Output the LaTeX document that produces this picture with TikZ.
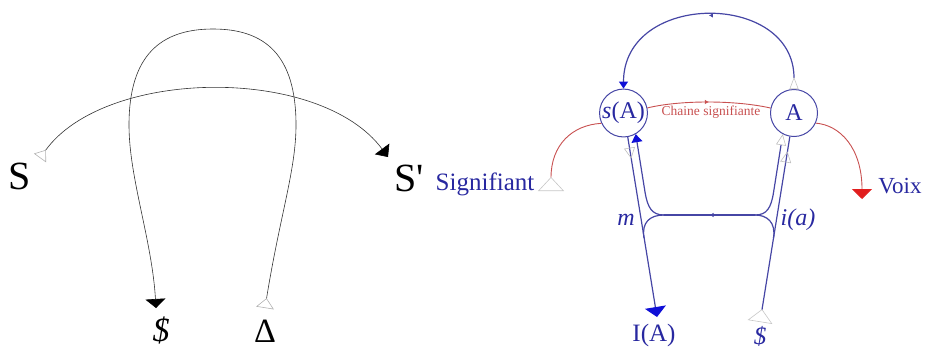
\documentclass[tikz,border=0pt]{standalone}
\usepackage{fontspec}
\setmainfont{Liberation Serif}
\usetikzlibrary{arrows.meta,decorations.markings}

\definecolor{graphblue}{RGB}{70,70,165}
\definecolor{headblue}{RGB}{15,15,215}
\definecolor{inkblue}{RGB}{40,40,160}
\definecolor{graphred}{RGB}{200,80,80}
\definecolor{headred}{RGB}{225,30,30}

\begin{document}
\begin{tikzpicture}[x=1pt, y=-1pt,
  bigsym/.style={inner sep=0pt, anchor=base, font=\fontsize{40}{40}\selectfont},
  bluesym/.style={inner sep=0pt, anchor=base, text=inkblue, font=\fontsize{25}{25}\selectfont},
  locus/.style={circle, draw=graphblue, line width=1pt, minimum size=47pt, inner sep=0pt, text=inkblue, font=\fontsize{24}{24}\selectfont},
  cellwire/.style={line width=0.6pt, black!80},
  bwire/.style={line width=1.2pt, graphblue},
  rwire/.style={line width=0.9pt, graphred},
  midarrow/.style={postaction={decorate}, decoration={markings, mark=at position 0.5 with {\arrow{Latex[length=4pt,width=4.5pt]}}}},
  openmark/.style={postaction={decorate}, decoration={markings, mark=at position #1 with {\arrow{Triangle[open,color=gray!50,line width=.6pt,length=11pt,width=11pt]}}}},
]
\useasboundingbox (0,0) rectangle (928,349);

% === Left: elementary cell ===
\node[bigsym] (S) at (20,189) {S};
\node[bigsym] (Sp) at (409,191) {S\textquotesingle};
\node[bigsym, font=\fontsize{34}{34}\selectfont\itshape] (Sbar) at (161,341) {\$};
\node[bigsym, font=\fontsize{34}{34}\selectfont] (Delta) at (265,342) {Δ};

\coordinate (sTail) at (40,158);
\coordinate (spHead) at (388,157);
\coordinate (dTail) at (265,308);
\coordinate (sbHead) at (156,308);

\draw[cellwire, {Triangle[open,reversed,color=gray!60,line width=.6pt,length=10pt,width=15pt]}-{Triangle[length=10pt,width=18pt,color=black]}]
  (sTail) .. controls (105,68) and (320,65) .. (spHead);
\draw[cellwire, {Triangle[open,reversed,color=gray!60,line width=.6pt,length=10pt,width=18pt]}-{Triangle[length=9pt,width=20pt,color=black]}]
  (dTail) .. controls (280,215) and (296,170) .. (296,125)
  .. controls (296,55) and (265,29) .. (213,29)
  .. controls (161,29) and (129,55) .. (129,125)
  .. controls (129,178) and (152,240) .. (sbHead);

% === Right: the graph ===
\node[locus] (sA) at (623.5,113) {\textit{s}(A)};
\node[locus] (A) at (794,113) {A};
\node[bluesym] (sig) at (485,190) {Signifiant};
\node[bluesym, font=\fontsize{23}{23}\selectfont] (voix) at (900,193) {Voix};
\node[bluesym] (IA) at (654,341) {I(A)};
\node[bluesym, font=\fontsize{25}{25}\selectfont\itshape] (dollar) at (760,344) {\$};
\node[bluesym, font=\fontsize{24}{24}\selectfont\itshape] (m) at (626,225) {m};
\node[bluesym, font=\fontsize{24}{24}\selectfont\itshape] (ia) at (798,225) {i(a)};
\node[inner sep=0pt, text=graphred, font=\fontsize{13.5}{13.5}\selectfont] (chaine) at (711,112) {Chaine signifiante};

\coordinate (sigTail) at (551,191);
\coordinate (voixHead) at (862,199);
\coordinate (IAhead) at (657,317);
\coordinate (dolTail) at (760,322);
\coordinate (hL) at (664,215);
\coordinate (hR) at (755,215);
\coordinate (l1Join) at (644,238);
\coordinate (l2Bend) at (645,192);
\coordinate (r1Join) at (773.5,238);
\coordinate (r2Bend) at (773.6,192);

% blue rails
\draw[bwire, openmark=0.12, -{Triangle[length=10pt,width=21pt,color=headblue]}] (sA.-80) -- (IAhead);
\draw[bwire, openmark=0.92, {Triangle[open,reversed,color=gray!45,line width=.6pt,length=13pt,width=25pt]}-] (dolTail) -- (A.-100);
\draw[bwire, midarrow] (hR) -- (hL);
\draw[bwire] (l1Join) .. controls (641.4,222.2) and (650,215) .. (hL);
\draw[bwire] (r1Join) .. controls (776,222.2) and (767,215) .. (hR);
\draw[bwire, -{Triangle[length=8pt,width=11pt,color=headblue]}] (hL) .. controls (652,215) and (647.6,207.8) .. (l2Bend) -- (sA.-60);
\draw[bwire, -{Triangle[open,color=gray!50,line width=.6pt,length=11pt,width=10pt]}] (hR) .. controls (767,215) and (771.1,207.8) .. (r2Bend) -- (A.-118);

% top loop A -> s(A)
\draw[bwire, midarrow, {Triangle[open,reversed,color=gray!45,line width=.6pt,length=12pt,width=9pt]}-{Triangle[length=7pt,width=9pt,color=headblue]}]
  (A.90) .. controls (794,-9) and (623.5,-9) .. (sA.90);

% red signifying chain
\draw[rwire, midarrow] (sA.12) .. controls (680,100) and (735,100) .. (A.168);
\draw[rwire, {Triangle[open,reversed,color=gray!45,line width=.6pt,length=14pt,width=26pt]}-] (sigTail) .. controls (551,145) and (572,125) .. (sA.205);
\draw[rwire, -{Triangle[length=10pt,width=20pt,color=headred]}] (A.-25) .. controls (840,125) and (862,148) .. (voixHead);

\end{tikzpicture}
\end{document}
